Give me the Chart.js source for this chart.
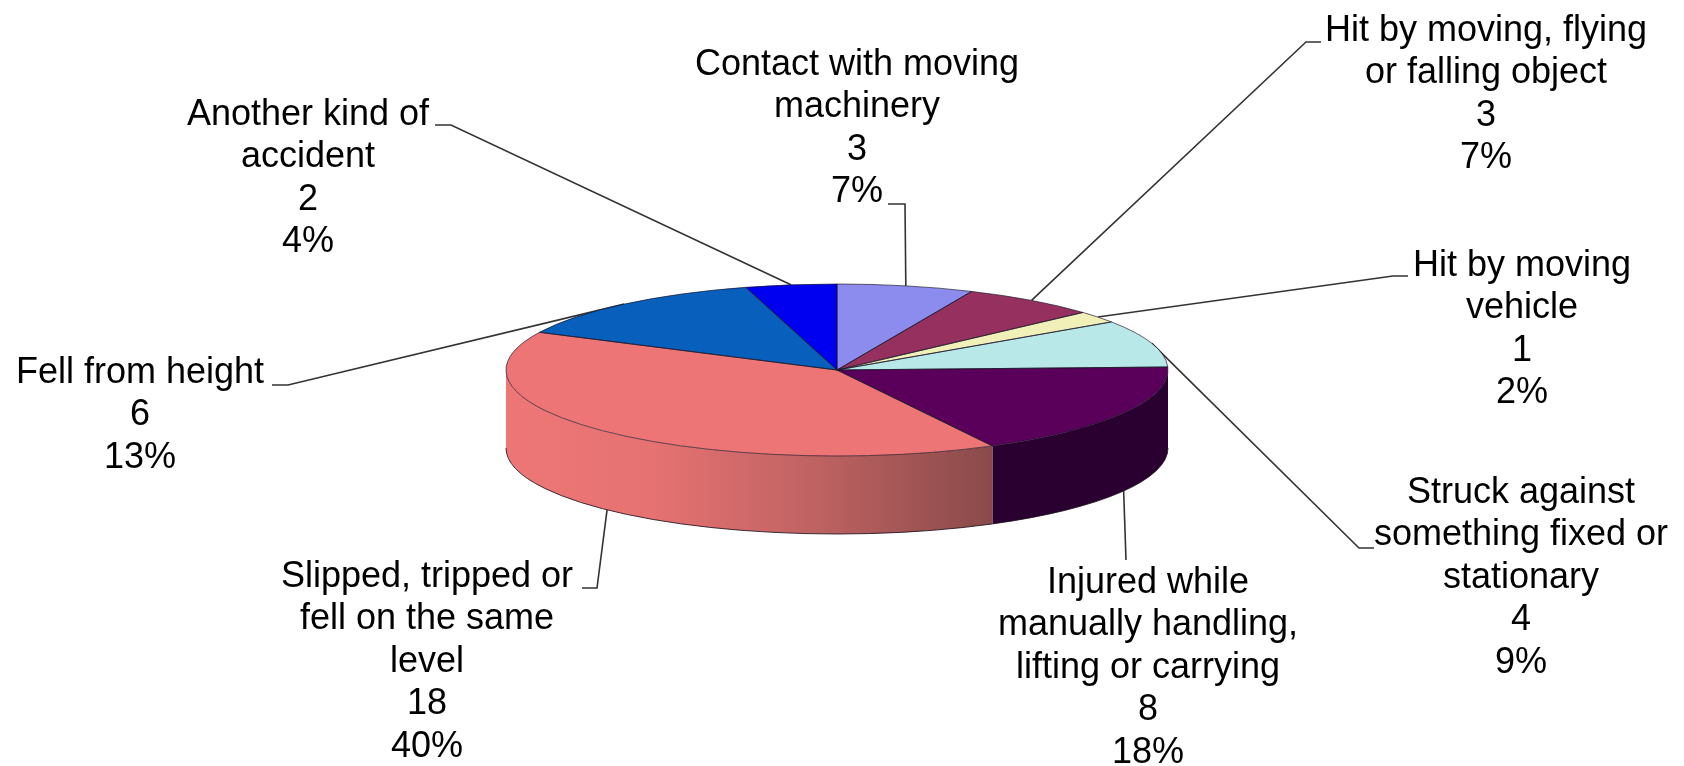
<!DOCTYPE html>
<html>
<head>
<meta charset="utf-8">
<style>html,body{margin:0;padding:0;background:#fff}canvas{display:block}</style>
<script src="https://cdn.jsdelivr.net/npm/chart.js@4"></script>
</head>
<body>
<canvas id="c" width="1684" height="766"></canvas>
<script>
// ---- data ----
const categories = [
  ["Contact with moving", "machinery"],
  ["Hit by moving, flying", "or falling object"],
  ["Hit by moving", "vehicle"],
  ["Struck against", "something fixed or", "stationary"],
  ["Injured while", "manually handling,", "lifting or carrying"],
  ["Slipped, tripped or", "fell on the same", "level"],
  ["Fell from height"],
  ["Another kind of", "accident"]
];
const counts = [3, 3, 1, 4, 8, 18, 6, 2];
const percents = ["7%", "7%", "2%", "9%", "18%", "40%", "13%", "4%"];

// ---- styles ----
const topColors = ["#8C8CEE", "#96305F", "#F0F0B8", "#B8E8E8", "#5A005A", "#EE7575", "#0860BC", "#0000F0"];
const FONT = '36px "Liberation Sans", Arial, sans-serif';
const SQUASH = 86 / 331;   // ellipse ratio of the tilted pie
const DEPTH = 78;          // wall height

// ---- label layout: centre x, first baseline, line gap ----
const labelX = [857, 1486, 1522, 1521, 1148, 427, 140, 308];
const labelY = [75, 41, 276, 503, 593, 587, 383, 125];
const labelGap = 42.4;
// leader: start of the short stub, end of the stub (null = no stub)
const stubFrom = [[888,204],[1321,42],[1408,276],[1374,548],null,[582,588],[272,385],[435,125]];
const stubTo   = [[905,204],[1306,42],[1393,276],[1359,548],[1126,560],[597,588],[288,385],[451,125]];

function arcGeom(chart) {
  return chart.getDatasetMeta(0).data.map(a =>
    a.getProps(['x','y','startAngle','endAngle','outerRadius'], true));
}

const tilted3D = {
  id: 'tilted3D',
  beforeDatasetsDraw(chart) {
    const ctx = chart.ctx, arcs = arcGeom(chart);
    // leader lines lie under the pie
    ctx.save();
    ctx.strokeStyle = '#333333';
    ctx.lineWidth = 1.6;
    arcs.forEach((g, i) => {
      const mid = (g.startAngle + g.endAngle) / 2;
      const rx = g.outerRadius, ry = rx * SQUASH;
      const ex = g.x + rx * Math.cos(mid);
      let ey = g.y + ry * Math.sin(mid);
      if (Math.sin(mid) > 0) ey += DEPTH;   // front slices: lower rim
      ctx.beginPath();
      if (stubFrom[i]) { ctx.moveTo(stubFrom[i][0], stubFrom[i][1]); ctx.lineTo(stubTo[i][0], stubTo[i][1]); }
      else ctx.moveTo(stubTo[i][0], stubTo[i][1]);
      ctx.lineTo(ex, ey);
      ctx.stroke();
    });
    // side wall of the visible (front) slices
    arcs.forEach((g, i) => {
      const norm = a => { let v = a % (2 * Math.PI); if (v > Math.PI * 1.5) v -= 2 * Math.PI; return v; };
      let a = norm(g.startAngle), b = a + (g.endAngle - g.startAngle);
      a = Math.max(a, 0); b = Math.min(b, Math.PI);
      if (b <= a) return;
      const rx = g.outerRadius, ry = rx * SQUASH;
      ctx.beginPath();
      ctx.ellipse(g.x, g.y, rx, ry, 0, a, b);
      ctx.ellipse(g.x, g.y + DEPTH, rx, ry, 0, b, a, true);
      ctx.closePath();
      if (i === 5) {
        const x0 = g.x + rx * Math.cos(b), x1 = g.x + rx * Math.cos(a);
        const grad = ctx.createLinearGradient(x0, 0, x1, 0);
        grad.addColorStop(0, '#EE7676');
        grad.addColorStop(0.3, '#E67272');
        grad.addColorStop(0.6, '#C46464');
        grad.addColorStop(1, '#8A4A4A');
        ctx.fillStyle = grad;
      } else {
        ctx.fillStyle = '#2A0030';
      }
      ctx.fill();
      // lower rim
      ctx.beginPath();
      ctx.ellipse(g.x, g.y + DEPTH, rx, ry, 0, a, b);
      ctx.strokeStyle = 'rgba(30,20,30,0.85)';
      ctx.lineWidth = 1;
      ctx.stroke();
    });
    ctx.restore();
    // squash the library's own arcs into an ellipse
    const g0 = arcs[0];
    ctx.save();
    ctx.translate(g0.x, g0.y);
    ctx.scale(1, SQUASH);
    ctx.translate(-g0.x, -g0.y);
  },
  afterDatasetsDraw(chart) {
    const ctx = chart.ctx, arcs = arcGeom(chart);
    ctx.restore();
    ctx.save();
    // thin slice outlines with an even line width
    ctx.strokeStyle = 'rgba(25,20,40,0.75)';
    ctx.lineWidth = 0.9;
    ctx.lineJoin = 'round';
    arcs.forEach(g => {
      const rx = g.outerRadius, ry = rx * SQUASH;
      ctx.beginPath();
      ctx.moveTo(g.x, g.y);
      ctx.ellipse(g.x, g.y, rx, ry, 0, g.startAngle, g.endAngle);
      ctx.closePath();
      ctx.stroke();
    });
    // data labels
    ctx.fillStyle = '#000';
    ctx.font = FONT;
    ctx.textAlign = 'center';
    ctx.textBaseline = 'alphabetic';
    categories.forEach((lines, i) => {
      const all = lines.concat([String(counts[i]), percents[i]]);
      all.forEach((t, k) => ctx.fillText(t, labelX[i], labelY[i] + k * labelGap));
    });
    ctx.restore();
  }
};

new Chart(document.getElementById('c'), {
  type: 'pie',
  data: {
    labels: categories.map(l => l.join(' ')),
    datasets: [{ data: counts, backgroundColor: topColors, borderWidth: 0 }]
  },
  options: {
    responsive: false,
    animation: false,
    events: [],
    layout: { padding: { left: 506, right: 516, top: 39, bottom: 65 } },
    plugins: { legend: { display: false }, tooltip: { enabled: false }, title: { display: false } }
  },
  plugins: [tilted3D]
});
</script>
</body>
</html>
